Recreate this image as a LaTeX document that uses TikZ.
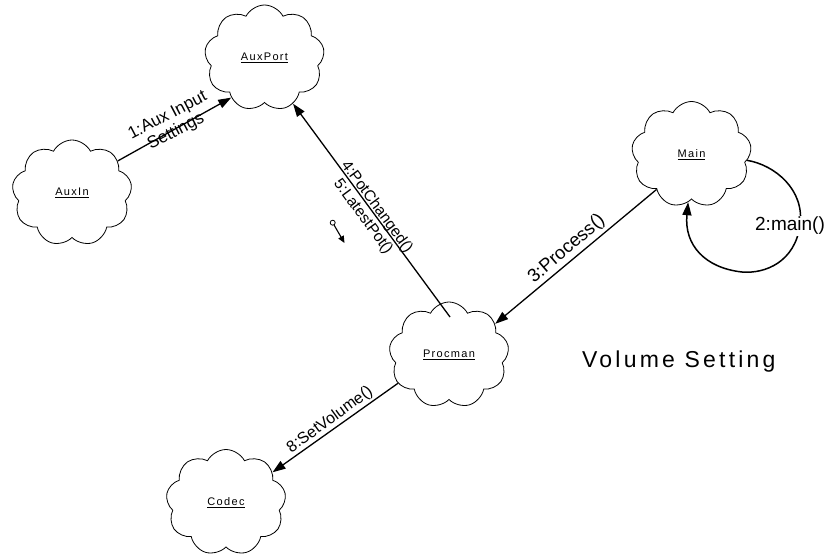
\documentclass[tikz,border=0pt]{standalone}
\usepackage{fontspec}
\setmainfont{Liberation Sans}
\newfontfamily\cloudfont[LetterSpace=12]{Liberation Sans}
\newfontfamily\titlefont[LetterSpace=14]{Liberation Sans}
\usetikzlibrary{shapes.symbols,arrows.meta}
\tikzset{
  obj/.style={cloud, cloud puffs=9, cloud puff arc=125, cloud ignores aspect,
    draw, line width=0.8pt, minimum width=120pt, minimum height=106pt,
    inner sep=0pt, font=\cloudfont\fontsize{11}{13}\selectfont},
  msg/.style={line width=1.3pt, -{Triangle[length=13pt,width=9pt]}},
  lbl/.style={inner sep=0pt, align=center},
}
\newcommand\objname[1]{\underline{#1}}

\begin{document}
\begin{tikzpicture}[x=1pt,y=-1pt]
\useasboundingbox (0,0) rectangle (827,559);

% objects
\node[obj] (auxport) at (264.5,58)    {\objname{AuxPort}};
\node[obj] (auxin)   at (72,193)      {\objname{AuxIn}};
\node[obj] (main)    at (691.5,154.5) {\objname{Main}};
\node[obj] (procman) at (449,355)     {\objname{Procman}};
\node[obj] (codec)   at (226,502.5)   {\objname{Codec}};

% messages
\draw[msg] (auxin.35)    -- (auxport.230);
\draw[msg] ([shift={(1,-38)}]procman.center) -- (auxport.-58);
\draw[msg] (main.225)    -- (procman.34);
\draw[msg] (procman.209) -- (codec.33);
\draw[msg, line width=1.5pt]
  (main.-6) .. controls (775,165) and (805,190) .. (800,225)
            .. controls (795,262) and (765,274) .. (742,272)
            .. controls (705,268) and (684,245) .. (main.266);

% message labels
\node[lbl, rotate=27.6, font=\fontsize{17}{18}\selectfont] (l1) at (172,124)
  {1:Aux Input\\Settings};
\node[lbl, rotate=-53.6, font=\fontsize{15.5}{17}\selectfont] (l45) at (369.8,212)
  {4:PotChanged()\\5:LatestPot()};
\node[lbl, rotate=40.8, font=\fontsize{18.5}{20}\selectfont] (l3) at (566.7,249.2)
  {3:Process()};
\node[lbl, rotate=36, font=\fontsize{16}{18}\selectfont] (l8) at (330,420)
  {8:SetVolume()};
\node[lbl, fill=white, inner sep=1pt, font=\fontsize{19}{21}\selectfont] (l2) at (790,226)
  {2:main()};

% data flow marker
\node[circle, draw, line width=0.8pt, inner sep=0pt, minimum size=5pt] (flowsrc) at (332.7,222.7) {};
\coordinate (flowend) at (344.5,243);
\draw[line width=1.1pt, -{Triangle[length=7pt,width=6pt]}] (flowsrc) -- (flowend);

% diagram title
\node[anchor=base west, inner sep=0pt, font=\titlefont\fontsize{23}{27}\selectfont] (title)
  at (582,367.7) {Volume Setting};
\end{tikzpicture}
\end{document}
